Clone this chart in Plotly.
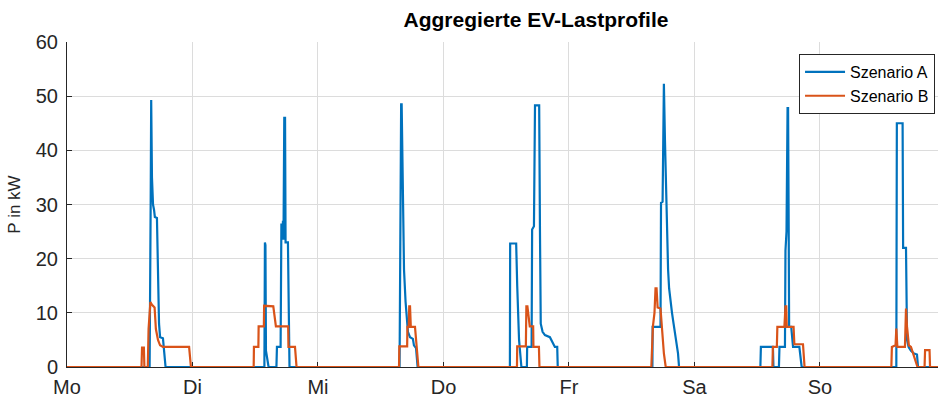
import plotly.graph_objects as go

# time axis: hours since Monday 00:00
day_labels = ["Mo", "Di", "Mi", "Do", "Fr", "Sa", "So"]
day_hours = [0, 24, 48, 72, 96, 120, 144]

# Szenario A (blue)
a_hours = [0,
    15.8, 16.0, 16.1, 16.25, 16.45, 16.65, 16.8, 17.2, 17.6, 17.8, 18.35, 18.85,
    37.75, 37.85, 37.95, 38.05, 38.35, 38.55,
    40.05, 40.15, 40.85, 41.0, 41.2, 41.3, 41.4, 41.55, 41.7, 41.8, 42.25, 42.55,
    63.6, 63.7, 63.8, 63.9, 64.0, 64.25, 64.45, 64.75, 65.0, 65.2, 65.6, 66.15, 66.35, 66.75, 67.05,
    84.7, 84.75, 85.9, 86.1, 86.45, 86.9,
    87.95, 88.0, 88.85, 88.95, 89.3, 89.5, 90.3, 90.45, 90.6, 90.95, 91.4, 92.35, 92.8, 93.3, 93.75, 93.85,
    111.95, 112.0, 113.5, 113.6, 113.9, 114.15, 114.35, 114.55, 114.75, 114.95, 115.15, 115.4, 115.7, 116.0, 116.3, 116.6, 116.85, 117.05,
    132.6, 132.7, 135.0, 135.1, 136.15, 136.25, 137.3, 137.4, 137.6, 137.8, 137.9, 138.0, 138.1, 138.5, 138.85, 140.05, 140.5,
    158.6, 158.7, 159.8, 159.9, 160.45, 160.65, 160.95, 161.4, 162.0, 162.55, 162.75,
    168]
a_kw = [0,
    0, 30, 49.3, 35, 30, 29, 27.7, 27.5, 8, 5.5, 5.3, 0,
    0, 23, 22.5, 3, 1, 0,
    0, 3.7, 3.7, 26.5, 24, 27, 23.5, 46, 46, 23, 23, 0,
    0, 27, 30, 48.5, 48.5, 30, 18, 12, 8, 6.5, 5.5, 5.2, 4, 3.5, 0,
    0, 22.8, 22.8, 15, 5, 0,
    0, 3.7, 3.7, 25.4, 26, 48.3, 48.3, 25, 8, 6.5, 5.9, 5.5, 4.6, 3.7, 3.7, 0,
    0, 7.4, 7.4, 30.3, 30.5, 52.3, 42, 33, 24, 18, 14.5, 12, 10, 8, 6, 4.5, 2.5, 0,
    0, 3.7, 3.7, 0, 0, 3.7, 3.7, 21.5, 25, 47.8, 47.8, 29, 7.4, 7.4, 3.7, 3.7, 0,
    0, 45, 45, 22, 22, 5, 3.7, 3.0, 2.5, 2.3, 0,
    0]

# Szenario B (orange)
b_hours = [0,
    14.25, 14.35, 14.7, 14.8, 15.45, 15.6, 15.95, 16.25, 16.75, 17.0, 17.4, 17.8, 18.35, 23.35, 23.7,
    35.7, 35.75, 36.6, 36.65, 37.65, 37.7, 39.45, 39.95, 42.3, 42.35, 43.6, 43.9,
    63.5, 63.55, 65.05, 65.1, 65.35, 65.45, 65.6, 65.75, 66.55, 67.2,
    86.05, 86.1, 87.75, 87.85, 88.05, 88.5, 89.15, 89.2, 90.25, 90.35,
    111.75, 111.85, 112.05, 112.35, 112.55, 112.75, 112.95, 113.5, 113.7, 113.9, 114.15, 114.5,
    134.9, 135.0, 135.75, 135.85, 137.2, 137.4, 137.55, 137.65, 138.95, 139.1, 140.75, 141.05,
    157.65, 157.75, 158.45, 158.6, 158.8, 160.25, 160.45, 160.65, 161.0, 161.4, 161.8, 162.15, 162.65, 164.0, 164.1, 164.95, 165.05,
    168]
b_kw = [0,
    0, 3.6, 3.6, 0, 0, 7, 12, 11.5, 11, 7, 5, 4, 3.7, 3.7, 0,
    0, 3.7, 3.7, 7.5, 7.5, 11.3, 11.2, 7.5, 7.5, 3.7, 3.7, 0,
    0, 3.8, 3.8, 7.4, 7.4, 11.2, 11.2, 7.4, 7.4, 0,
    0, 3.8, 3.8, 11.2, 11.2, 7.5, 7.5, 3.7, 3.7, 0,
    0, 4, 7.5, 10, 14.5, 14.5, 11, 10.8, 8, 5, 2.5, 0,
    0, 3.7, 3.7, 7.4, 7.4, 11.2, 11.2, 7.4, 7.4, 4.2, 4.2, 0,
    0, 3.7, 4, 7.1, 3.7, 3.7, 10.8, 7.4, 4, 3.7, 2.5, 1.5, 0, 0, 3.1, 3.1, 0,
    0]

assert len(a_hours) == len(a_kw) and len(b_hours) == len(b_kw)

FONT = "Liberation Sans, Arial, Helvetica, sans-serif"
AX = "#262626"
GRID = "#dcdcdc"

fig = go.Figure()
fig.add_trace(go.Scatter(x=a_hours, y=a_kw, mode="lines", name="Szenario A",
                         line=dict(color="#0072BD", width=2.2)))
fig.add_trace(go.Scatter(x=b_hours, y=b_kw, mode="lines", name="Szenario B",
                         line=dict(color="#D95319", width=2.2)))

axis_common = dict(showline=True, linecolor=AX, linewidth=1, ticks="inside",
                   ticklen=5, tickcolor=AX, showgrid=True, gridcolor=GRID,
                   gridwidth=1, zeroline=False, layer="below traces",
                   automargin=False,
                   tickfont=dict(family=FONT, size=20, color=AX))

fig.update_layout(
    width=938, height=399,
    margin=dict(l=67, r=0, t=42, b=32),
    paper_bgcolor="white", plot_bgcolor="white",
    title=dict(text="<b>Aggregierte EV-Lastprofile</b>", x=536/938, xref="container",
               xanchor="center", y=1 - 20/399, yref="container", yanchor="middle",
               font=dict(family=FONT, size=21, color="black")),
    xaxis=dict(range=[0, 166.57], tickmode="array", tickvals=day_hours,
               ticktext=day_labels, ticklabelstandoff=2, **axis_common),
    yaxis=dict(range=[0, 60], tickmode="linear", tick0=0, dtick=10,
               ticklabelstandoff=4,
               title=dict(text="P in kW", font=dict(family=FONT, size=17, color=AX), standoff=10),
               **axis_common),
    legend=dict(x=0.9966, xanchor="right", y=0.963, yanchor="top",
                bgcolor="white", bordercolor=AX, borderwidth=1,
                font=dict(family=FONT, size=16, color="black"),
                tracegroupgap=0, itemwidth=40),
    showlegend=True,
)

fig.write_html("out.html")
